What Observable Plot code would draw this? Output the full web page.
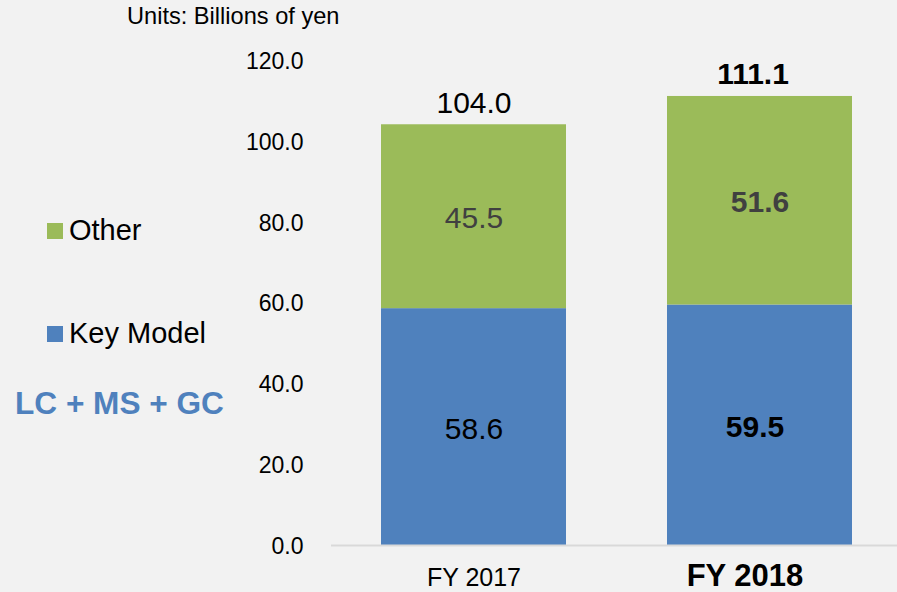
<!DOCTYPE html>
<html><head><meta charset="utf-8">
<script src="https://cdn.jsdelivr.net/npm/d3@7"></script>
<script src="https://cdn.jsdelivr.net/npm/@observablehq/plot@0.6"></script>
<style>
html,body{margin:0;padding:0;background:#f2f2f2;}
#wrap{position:relative;width:897px;height:592px;background:#f2f2f2;font-family:"Liberation Sans",Arial,sans-serif;overflow:hidden;color:#000}
#wrap svg{position:absolute;left:0;top:0}
.ov{position:absolute;white-space:nowrap}
.sw{position:absolute;width:16px;height:16px}
</style></head><body><div id="wrap"></div>
<script>
const years = ["FY 2017", "FY 2018"];
const series = ["Key Model", "Other"];
const keyModel = [58.6, 59.5];
const other = [45.5, 51.6];
const totals = [104.0, 111.1];
const yTicks = [0, 20, 40, 60, 80, 100, 120];
const unitsLabel = "Units: Billions of yen";
const groupLabel = "LC + MS + GC";
const colors = ["#4f81bd", "#9bbb59"];
const highlight = "FY 2018";

const table = years.flatMap((yr, i) => [
  {year: yr, series: series[0], value: keyModel[i]},
  {year: yr, series: series[1], value: other[i]}
]);
const totalRows = years.map((yr, i) => ({year: yr, total: totals[i]}));

// filter applied after stacking
function after(opts, test) {
  const t = opts.transform;
  return {...opts, transform: (data, facets, ...rest) => {
    const r = t(data, facets, ...rest);
    return {...r, facets: r.facets.map(f => Array.from(f).filter(i => test(r.data[i])))};
  }};
}

const font = '"Liberation Sans", Arial, sans-serif';
function segText(s, bold, fill, dx) {
  return Plot.text(table, {
    ...after(Plot.stackY({x: "year", y: "value", text: d => d.value.toFixed(1)}),
      d => d.series === s && ((d.year === highlight) === bold)),
    fill, fontSize: 30, fontWeight: bold ? "bold" : "normal", lineAnchor: "middle", dy: 2, dx, fontFamily: font
  });
}

const chart = Plot.plot({
  width: 897, height: 592,
  marginLeft: 331, marginRight: 0, marginTop: 60, marginBottom: 47,
  style: {background: "transparent", fontFamily: font, color: "#000", overflow: "visible"},
  x: {domain: years, paddingInner: 0.353, paddingOuter: 0.166, align: 0.526, axis: null},
  y: {domain: [0, 120], axis: null},
  color: {domain: series, range: colors},
  marks: [
    Plot.axisY({ticks: yTicks, tickFormat: d => d.toFixed(1), tickSize: 0, tickPadding: 28, fontSize: 23, fill: "#000", label: null, dy: 1}),
    Plot.barY(table, {x: "year", y: "value", fill: "series"}),
    Plot.ruleY([0], {stroke: "#d9d9d9", strokeWidth: 2}),
    segText(series[0], false, "#000", 0),
    segText(series[0], true, "#000", -5),
    segText(series[1], false, "#404040", 0),
    segText(series[1], true, "#404040", 0),
    Plot.text(totalRows, {filter: d => d.year !== highlight, x: "year", y: "total", text: d => d.total.toFixed(1), fontSize: 30, lineAnchor: "middle", dy: -22, fill: "#000"}),
    Plot.text(totalRows, {filter: d => d.year === highlight, x: "year", y: "total", text: d => d.total.toFixed(1), fontSize: 30, fontWeight: "bold", lineAnchor: "middle", dy: -22, dx: -7, fill: "#000"}),
    Plot.text(years, {filter: d => d !== highlight, x: d => d, text: d => d, frameAnchor: "bottom", lineAnchor: "middle", dy: 32, fontSize: 25, fill: "#000"}),
    Plot.text(years, {filter: d => d === highlight, x: d => d, text: d => d, frameAnchor: "bottom", lineAnchor: "middle", dy: 31, dx: -15, fontSize: 31, fontWeight: "bold", fill: "#000"})
  ]
});

const wrap = document.getElementById("wrap");
wrap.appendChild(chart);

function addText(txt, left, top, size, weight, color) {
  const d = document.createElement("div");
  d.className = "ov";
  d.textContent = txt;
  Object.assign(d.style, {left: left + "px", top: top + "px", fontSize: size + "px", lineHeight: size + "px", fontWeight: weight, color});
  wrap.appendChild(d);
}
addText(unitsLabel, 127, 5, 23.6, "normal", "#000");
// legend (Other on top, Key Model below)
const legendTops = {"Other": 223, "Key Model": 326};
series.forEach((s, i) => {
  const sw = document.createElement("div");
  sw.className = "sw";
  Object.assign(sw.style, {left: "47px", top: legendTops[s] + "px", background: colors[i]});
  wrap.appendChild(sw);
  addText(s, 69, legendTops[s] - 7.5, 29, "normal", "#000");
});
addText(groupLabel, 15, 388.2, 31.6, "bold", colors[0]);
</script>
</body></html>
